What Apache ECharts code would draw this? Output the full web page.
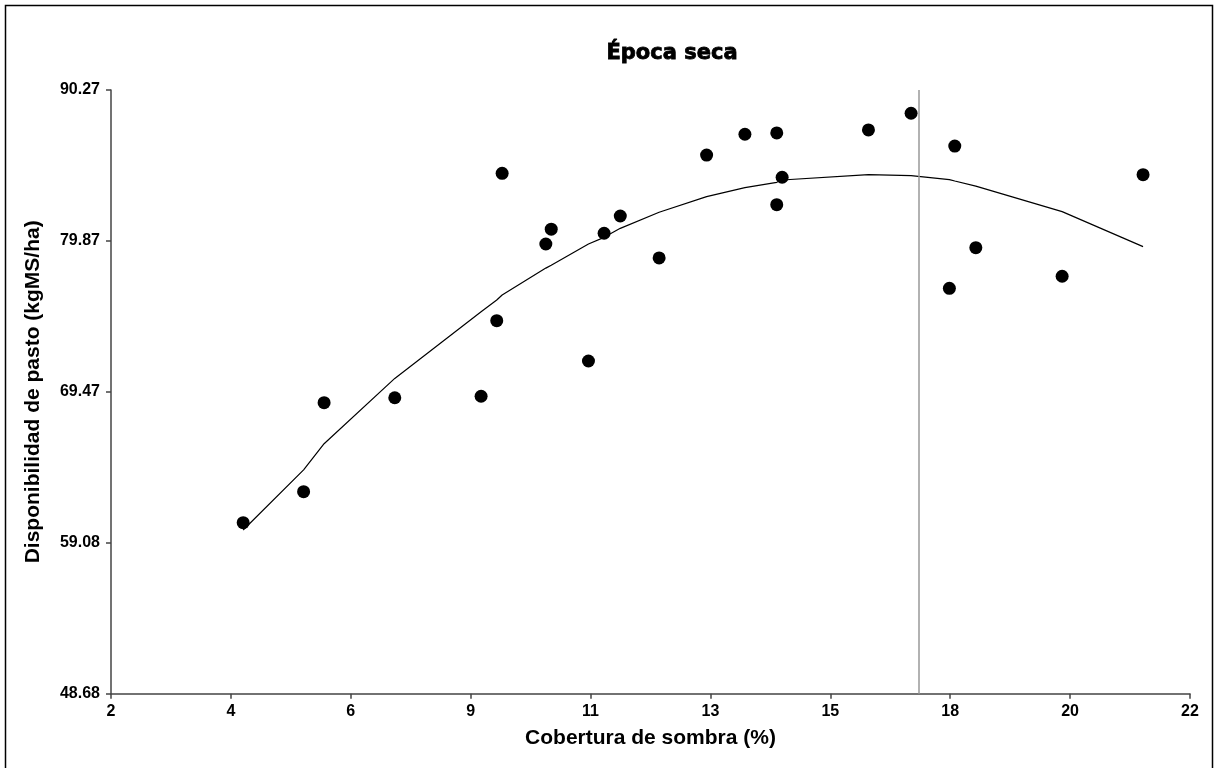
<!DOCTYPE html>
<html>
<head>
<meta charset="utf-8">
<script src="https://cdn.jsdelivr.net/npm/echarts@6/dist/echarts.min.js"></script>
<style>
  html, body { margin: 0; padding: 0; background: #fff; }
  #chart { width: 1218px; height: 768px; }
</style>
</head>
<body>
<div id="chart"></div>
<script>
// Observed points: shade cover (%) and pasture availability (kgMS/ha)
const coverX = [4.45, 5.57, 5.95, 7.26, 8.86, 9.15, 9.25, 10.06, 10.16, 10.85, 11.14, 11.44,
                12.16, 13.04, 13.75, 14.34, 14.34, 14.44, 16.04, 16.83, 17.64, 17.54, 18.03, 19.63, 21.13];
const pastureY = [60.46, 62.60, 68.73, 69.07, 69.17, 74.38, 84.53, 79.66, 80.68, 71.60, 80.40, 81.59,
                  78.70, 85.79, 87.22, 87.31, 82.37, 84.26, 87.52, 88.67, 86.41, 76.61, 79.41, 77.44, 84.44];

// Fitted curve, read at each sorted x
const fitX = [4.45, 5.57, 5.95, 7.26, 8.86, 9.15, 9.25, 10.06, 10.16, 10.85, 11.14, 11.44,
              12.16, 13.04, 13.75, 14.34, 14.44, 16.04, 16.83, 17.54, 17.64, 18.03, 19.63, 21.13];
const fitY = [59.96, 64.10, 65.90, 70.40, 75.00, 75.80, 76.15, 78.00, 78.20, 79.66, 80.12, 80.74,
              81.85, 82.92, 83.54, 83.91, 84.07, 84.44, 84.37, 84.10, 84.00, 83.65, 81.89, 79.48];

// Axis ticks
const xTickValues = [2, 4.222, 6.444, 8.667, 10.889, 13.111, 15.333, 17.556, 19.778, 22];
const xTickLabels = ['2', '4', '6', '9', '11', '13', '15', '18', '20', '22'];
const yTickValues = [48.68, 59.0775, 69.475, 79.8725, 90.27];
const yTickLabels = ['48.68', '59.08', '69.47', '79.87', '90.27'];

const refLineX = 16.97;

const chart = echarts.init(document.getElementById('chart'), null, { renderer: 'canvas' });

const labelFont = { color: '#000', fontFamily: 'Liberation Sans, Arial, sans-serif', fontWeight: 'bold', fontSize: 16 };

function nearestLabel(vals, labels, v) {
  let best = 0;
  for (let i = 1; i < vals.length; i++) {
    if (Math.abs(vals[i] - v) < Math.abs(vals[best] - v)) best = i;
  }
  return labels[best];
}

chart.setOption({
  animation: false,
  backgroundColor: '#fff',
  title: {
    text: 'Época seca',
    left: 667,
    top: 38,
    textAlign: 'center',
    textStyle: {
      color: '#000', fontFamily: 'DejaVu Sans, Arial Black, sans-serif', fontWeight: 'bold', fontSize: 21,
      textBorderColor: '#000', textBorderWidth: 0.8
    }
  },
  graphic: [{
    type: 'rect',
    shape: { x: 5.5, y: 5.5, width: 1207, height: 780 },
    style: { fill: 'none', stroke: '#000', lineWidth: 1.5 },
    silent: true
  }],
  grid: { left: 111, right: 28, top: 90, bottom: 74.3, containLabel: false },
  xAxis: {
    type: 'value',
    min: 2, max: 22,
    name: 'Cobertura de sombra (%)',
    nameLocation: 'middle',
    nameGap: 34,
    nameTextStyle: { color: '#000', fontFamily: 'Liberation Sans, Arial, sans-serif', fontWeight: 'bold', fontSize: 21 },
    axisLine: { show: true, lineStyle: { color: '#444', width: 1.5 } },
    axisTick: { show: true, inside: false, length: 5, customValues: xTickValues, lineStyle: { color: '#444', width: 1.5 } },
    axisLabel: Object.assign({
      margin: 10,
      customValues: xTickValues,
      formatter: v => nearestLabel(xTickValues, xTickLabels, v)
    }, labelFont),
    splitLine: { show: false }
  },
  yAxis: {
    type: 'value',
    min: 48.68, max: 90.27,
    name: 'Disponibilidad de pasto (kgMS/ha)',
    nameLocation: 'middle',
    nameGap: 67,
    nameRotate: 90,
    nameTextStyle: { color: '#000', fontFamily: 'Liberation Sans, Arial, sans-serif', fontWeight: 'bold', fontSize: 21 },
    axisLine: { show: true, lineStyle: { color: '#444', width: 1.5 } },
    axisTick: { show: true, inside: false, length: 5, customValues: yTickValues, lineStyle: { color: '#444', width: 1.5 } },
    axisLabel: Object.assign({
      margin: 11,
      customValues: yTickValues,
      formatter: v => nearestLabel(yTickValues, yTickLabels, v)
    }, labelFont),
    splitLine: { show: false }
  },
  series: [
    {
      type: 'line',
      data: fitX.map((x, i) => [x, fitY[i]]),
      symbol: 'none',
      lineStyle: { color: '#000', width: 1.2 },
      z: 2,
      markLine: {
        silent: true,
        symbol: 'none',
        label: { show: false },
        lineStyle: { color: '#999', width: 1.5, type: 'solid' },
        data: [{ xAxis: refLineX }]
      }
    },
    {
      type: 'scatter',
      data: coverX.map((x, i) => [x, pastureY[i]]),
      symbol: 'circle',
      symbolSize: 13,
      itemStyle: { color: '#000', opacity: 1 },
      z: 3
    }
  ]
});
</script>
</body>
</html>
